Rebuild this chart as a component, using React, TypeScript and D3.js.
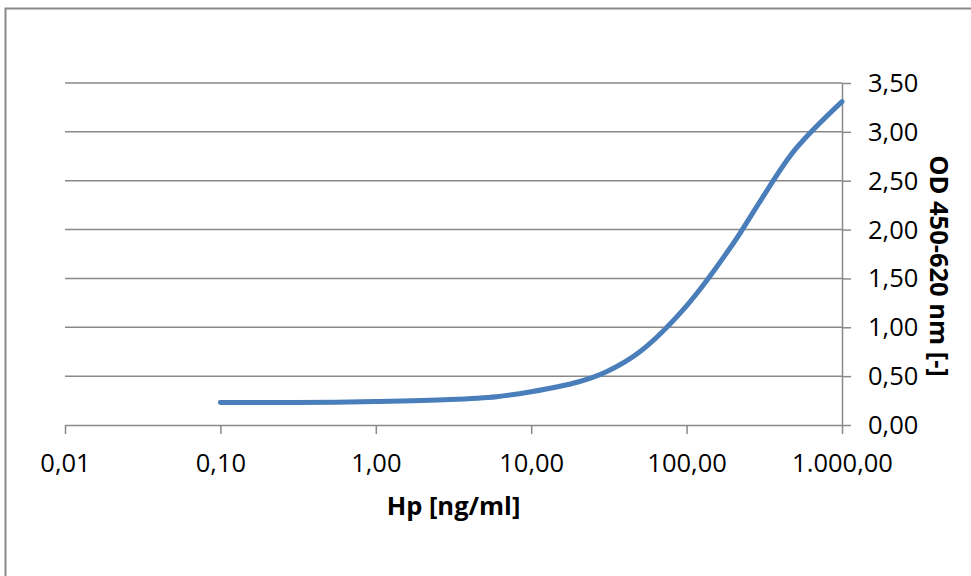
import React, { useEffect, useRef } from "react";
import * as d3 from "d3";

// Hp concentration [ng/ml] and measured OD 450-620 nm
const concentrations = [0.1, 0.3, 1, 3, 6, 10, 20, 30, 50, 100, 200, 300, 500, 1000];
const odValues = [0.23, 0.23, 0.24, 0.26, 0.29, 0.34, 0.44, 0.54, 0.75, 1.22, 1.86, 2.3, 2.82, 3.31];

const xTicks = [0.01, 0.1, 1, 10, 100, 1000];
const yTicks = [0, 0.5, 1, 1.5, 2, 2.5, 3, 3.5];

const width = 971;
const height = 576;
const margin = { top: 83, right: 129, bottom: 151, left: 65 };

const fmt = (v: number) =>
  v.toLocaleString("de-DE", { minimumFractionDigits: 2, maximumFractionDigits: 2 });

const App = () => {
  const svgRef = useRef<SVGSVGElement>(null);

  useEffect(() => {
    const svg = d3.select(svgRef.current);
    svg.selectAll("*").remove();

    const x = d3
      .scaleLog()
      .domain([0.01, 1000])
      .range([margin.left, width - margin.right]);
    const y = d3
      .scaleLinear()
      .domain([0, 3.5])
      .range([height - margin.bottom, margin.top]);

    const font = "'Open Sans', sans-serif";
    const grey = "#898989";

    // outer chart frame
    svg
      .append("rect")
      .attr("x", 5.5)
      .attr("y", 8.5)
      .attr("width", 1000)
      .attr("height", 600)
      .attr("fill", "none")
      .attr("stroke", grey)
      .attr("stroke-width", 2);

    // horizontal gridlines
    svg
      .append("g")
      .selectAll("line")
      .data(yTicks.slice(1))
      .join("line")
      .attr("x1", x(0.01))
      .attr("x2", x(1000))
      .attr("y1", (d) => y(d))
      .attr("y2", (d) => y(d))
      .attr("stroke", grey)
      .attr("stroke-width", 1.5);

    // x axis
    const gx = svg
      .append("g")
      .attr("transform", `translate(0,${y(0)})`)
      .call(d3.axisBottom(x).tickValues(xTicks).tickSize(9).tickSizeOuter(0).tickFormat((d) => fmt(+d)));
    gx.selectAll("path, line").attr("stroke", grey).attr("stroke-width", 1.5);
    gx.selectAll("text")
      .attr("font-family", font)
      .attr("font-size", 25.5)
      .attr("fill", "#000")
      .attr("dy", 0)
      .attr("y", 47);

    // y axis on the right
    const gy = svg
      .append("g")
      .attr("transform", `translate(${x(1000)},0)`)
      .call(d3.axisRight(y).tickValues(yTicks).tickSize(9).tickSizeOuter(0).tickFormat((d) => fmt(+d)));
    gy.selectAll("path, line").attr("stroke", grey).attr("stroke-width", 1.5);
    gy.selectAll("text")
      .attr("font-family", font)
      .attr("font-size", 25.5)
      .attr("fill", "#000")
      .attr("x", 26)
      .attr("dy", 8.5);

    // curve
    const line = d3
      .line<number>()
      .x((_, i) => x(concentrations[i]))
      .y((d) => y(d))
      .curve(d3.curveCatmullRom.alpha(0.5));

    svg
      .append("path")
      .datum(odValues)
      .attr("d", line)
      .attr("fill", "none")
      .attr("stroke", "#4a7ebb")
      .attr("stroke-width", 5)
      .attr("stroke-linecap", "round");

    // axis titles
    svg
      .append("text")
      .attr("x", (x(0.01) + x(1000)) / 2)
      .attr("y", 515)
      .attr("text-anchor", "middle")
      .attr("font-family", font)
      .attr("font-weight", "bold")
      .attr("font-size", 25.5)
      .text("Hp [ng/ml]");

    svg
      .append("text")
      .attr("transform", `translate(930,266) rotate(90)`)
      .attr("text-anchor", "middle")
      .attr("font-family", font)
      .attr("font-weight", "bold")
      .attr("font-size", 25.5)
      .text("OD 450-620 nm [-]");
  }, []);

  return (
    <svg
      ref={svgRef}
      width={width}
      height={height}
      style={{ position: "absolute", left: 0, top: 0, background: "#fff" }}
    ></svg>
  );
};

export default App;
